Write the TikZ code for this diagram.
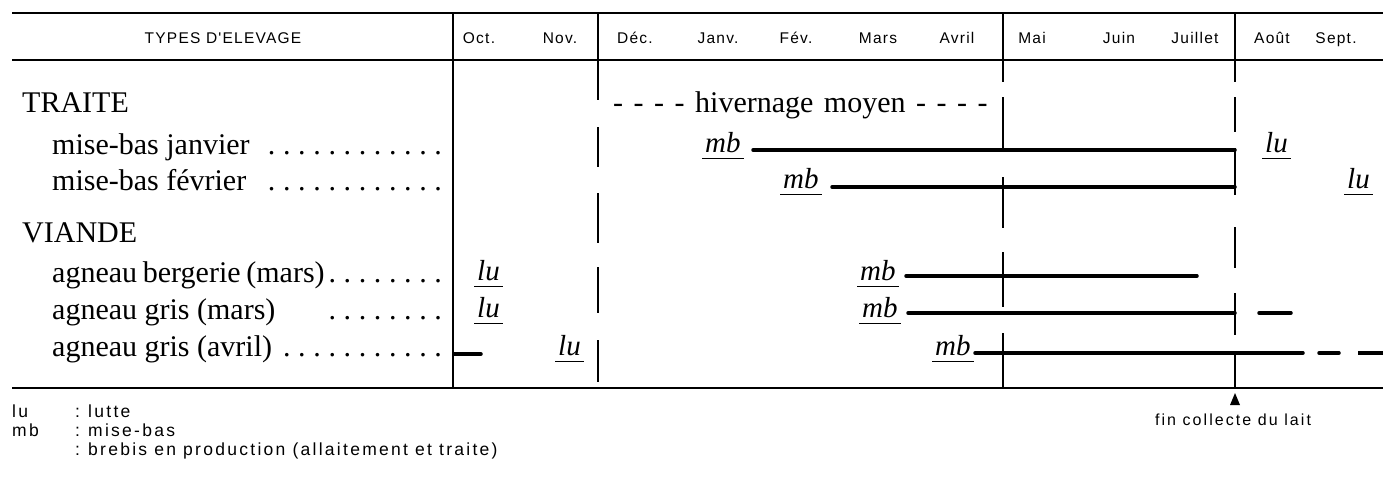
\documentclass[tikz,border=0pt]{standalone}
\usepackage{fontspec}
\setmainfont{Liberation Serif}
\newfontfamily\hdrfont[LetterSpace=8]{Liberation Sans}
\newfontfamily\lgdfont[LetterSpace=13]{Liberation Sans}
\usetikzlibrary{calc}
\newdimen\dotstep \dotstep=15.14pt
\newcommand\dotrun[1]{\hbox to #1\dotstep{\leaders\hbox to \dotstep{\hss.\hss}\hfill}}
\newcommand\evline[1]{\draw[uline] ($(#1.base west)+(-3,6.5)$) -- ($(#1.base east)+(3,6.5)$);}
\newcommand\colsep{\makebox[13pt][l]{:}}
\begin{document}
\begin{tikzpicture}[x=1pt,y=-1pt,
 rule/.style={line width=2pt},
 vline/.style={line width=1.4pt},
 month/.style={font=\hdrfont\fontsize{15.5}{18}\selectfont, anchor=base, inner sep=0pt},
 cat/.style={font=\fontsize{30}{32}\selectfont, anchor=base west, inner sep=0pt},
 rowlab/.style={font=\fontsize{30}{32}\selectfont, anchor=base west, inner sep=0pt},
 ev/.style={font=\itshape\fontsize{29}{30}\selectfont, anchor=base west, inner sep=0pt},
 uline/.style={line width=1.4pt},
 bar/.style={line width=3.5pt, line cap=round},
 lgd/.style={font=\lgdfont\fontsize{17.5}{20}\selectfont, anchor=base west, inner sep=0pt}]

\useasboundingbox (0,0) rectangle (1383,477);

% table rules
\draw[rule] (12,13) -- (1383,13);
\draw[rule] (12,60) -- (1383,60);
\draw[rule] (12,388) -- (1383,388);

% vertical lines
\draw[vline] (453,13) -- (453,388);
\draw[vline] (598,13) -- (598,100) (598,127) -- (598,167) (598,193) -- (598,243)
  (598,267) -- (598,313) (598,340) -- (598,382);
\draw[vline] (1003,13) -- (1003,82) (1003,97) -- (1003,148) (1003,177) -- (1003,228)
  (1003,252) -- (1003,307) (1003,333) -- (1003,388);
\draw[vline] (1235,13) -- (1235,82) (1235,97) -- (1235,132) (1235,148) -- (1235,195)
  (1235,227) -- (1235,268) (1235,293) -- (1235,335) (1235,352) -- (1235,388);

% header
\node[month] (types) at (223,43) {TYPES D'ELEVAGE};
\node[month] (oct) at (479,43) {Oct.};
\node[month] (nov) at (560,43) {Nov.};
\node[month] (dec) at (635,43) {Déc.};
\node[month] (jan) at (718,43) {Janv.};
\node[month] (fev) at (796,43) {Fév.};
\node[month] (mar) at (878,43) {Mars};
\node[month] (avr) at (957,43) {Avril};
\node[month] (mai) at (1032,43) {Mai};
\node[month] (juin) at (1119,43) {Juin};
\node[month] (juil) at (1195,43) {Juillet};
\node[month] (aout) at (1272,43) {Août};
\node[month] (sept) at (1336,43) {Sept.};

% row labels
\node[cat] (traite) at (22,112) {TRAITE};
\node[rowlab] (mbjan) at (52,154) {\hbox to 393.6pt{mise-bas janvier\hfill\dotrun{12}}};
\node[rowlab] (mbfev) at (52,190) {\hbox to 393.6pt{mise-bas février\hfill\dotrun{12}}};
\node[cat] (viande) at (22,242) {VIANDE};
\node[rowlab] (agb) at (52,282) {\hbox to 393.6pt{agneau bergerie (mars)\hfill\dotrun{8}}};
\node[rowlab] (agm) at (52,319) {\hbox to 393.6pt{agneau gris (mars)\hfill\dotrun{8}}};
\node[rowlab] (aga) at (52,356) {\hbox to 393.6pt{agneau gris (avril)\hfill\dotrun{11}}};

\node[rowlab] (hiv) at (613,112) {\spaceskip=0.35em - - - - hivernage moyen - - - -};

% events
\node[ev] (mb1) at (705,152) {mb};
\node[ev] (lu1) at (1265,152) {lu};
\node[ev] (mb2) at (783,188) {mb};
\node[ev] (lu2) at (1347,188) {lu};
\node[ev] (lu3) at (477,280) {lu};
\node[ev] (mb3) at (860,280) {mb};
\node[ev] (lu4) at (477,317) {lu};
\node[ev] (mb4) at (862,317) {mb};
\node[ev] (lu5) at (558,355) {lu};
\node[ev] (mb5) at (935,355) {mb};
\evline{mb1}\evline{lu1}\evline{mb2}\evline{lu2}\evline{lu3}
\evline{mb3}\evline{lu4}\evline{mb4}\evline{lu5}\evline{mb5}

% bars
\coordinate (b1s) at (753,150); \coordinate (b1e) at (1235,150);
\coordinate (b2s) at (832,187); \coordinate (b2e) at (1235,187);
\coordinate (b3s) at (906,276); \coordinate (b3e) at (1197,276);
\coordinate (b4s) at (908,313); \coordinate (b4e) at (1235,313);
\coordinate (b4bs) at (1259,313); \coordinate (b4be) at (1291,313);
\coordinate (b5as) at (454,354); \coordinate (b5ae) at (481,354);
\coordinate (b5s) at (975,353); \coordinate (b5e) at (1303,353);
\coordinate (b5d1s) at (1319,353); \coordinate (b5d1e) at (1339,353);
\coordinate (b5d2s) at (1358,353); \coordinate (b5d2e) at (1383,353);
\draw[bar] (b1s) -- (b1e);
\draw[bar] (b2s) -- (b2e);
\draw[bar] (b3s) -- (b3e);
\draw[bar] (b4s) -- (b4e);
\draw[bar] (b4bs) -- (b4be);
\draw[bar] (b5as) -- (b5ae);
\draw[bar] (b5s) -- (b5e);
\draw[bar] (b5d1s) -- (b5d1e);
\draw[bar,line cap=butt] (b5d2s) -- (b5d2e);

% fin collecte
\fill (1235,393) -- (1230,405) -- (1240,405) -- cycle;
\node[lgd, anchor=base, font=\lgdfont\fontsize{16}{19}\selectfont] (fin) at (1233,425) {fin collecte du lait};

% legend
\node[lgd] (klu) at (12,417) {lu};
\node[lgd] (vlu) at (75,417) {\colsep lutte};
\node[lgd] (kmb) at (12,436) {mb};
\node[lgd] (vmb) at (75,436) {\colsep mise-bas};
\node[lgd] (vbr) at (75,455) {\colsep brebis en production (allaitement et traite)};
\end{tikzpicture}
\end{document}
